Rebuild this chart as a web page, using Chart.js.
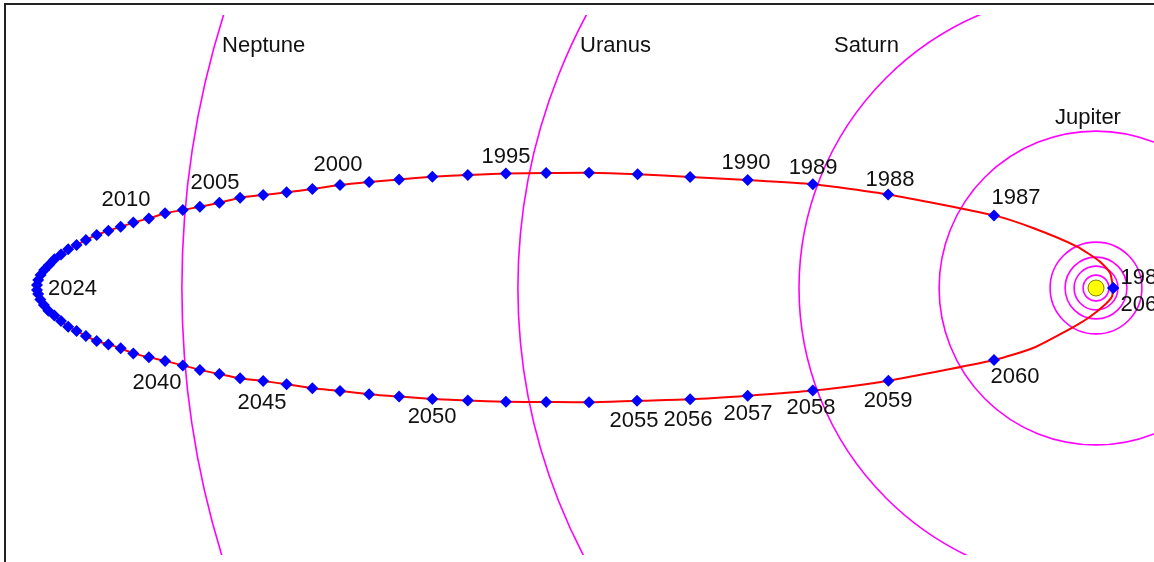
<!DOCTYPE html>
<html>
<head>
<meta charset="utf-8">
<script src="https://cdn.jsdelivr.net/npm/chart.js@4.4.1/dist/chart.umd.min.js"></script>
<style>
  body { margin: 0; background: #fff; }
  #wrap { position: relative; width: 1154px; height: 562px; overflow: hidden; }
  #frame { position: absolute; left: 4px; top: 3px; width: 2000px; height: 2000px;
           border-left: 2px solid #222; border-top: 2px solid #222; pointer-events: none; }
</style>
</head>
<body>
<div id="wrap">
  <canvas id="orbit" width="1154" height="562"></canvas>
  <div id="frame"></div>
</div>
<script>
// Halley's comet, yearly positions (AU, sun at origin)
const years = [];
for (let y = 1986; y <= 2061; y++) years.push(y);

const cometX = [0.57, -3.40, -6.93, -9.44, -11.61, -13.53, -15.28, -16.90, -18.33, -19.67,
  -20.94, -22.12, -23.23, -24.23, -25.20, -26.12, -26.98, -27.76, -28.53, -29.22,
  -29.87, -30.44, -31.03, -31.57, -32.09, -32.51, -32.92, -33.31, -33.67, -33.98,
  -34.26, -34.50, -34.72, -34.90, -35.06, -35.18, -35.26, -35.30, -35.30, -35.26,
  -35.19, -35.07, -34.92, -34.72, -34.50, -34.26, -33.98, -33.67, -33.31, -32.92,
  -32.51, -32.09, -31.57, -31.03, -30.44, -29.87, -29.22, -28.53, -27.76, -26.98,
  -26.12, -25.20, -24.23, -23.23, -22.12, -20.94, -19.67, -18.33, -16.90, -15.30,
  -13.53, -11.61, -9.44, -6.92, -3.40, 0.57];
const cometY = [0.00, 2.42, 3.12, 3.46, 3.60, 3.70, 3.79, 3.84, 3.83, 3.82,
  3.77, 3.71, 3.62, 3.53, 3.43, 3.30, 3.19, 3.10, 3.01, 2.84,
  2.71, 2.60, 2.49, 2.32, 2.18, 2.04, 1.91, 1.77, 1.60, 1.43,
  1.29, 1.12, 0.96, 0.77, 0.60, 0.43, 0.27, 0.10, -0.07, -0.20,
  -0.38, -0.57, -0.76, -0.92, -1.10, -1.29, -1.43, -1.60, -1.77, -1.88,
  -2.01, -2.18, -2.31, -2.43, -2.58, -2.73, -2.87, -3.01, -3.10, -3.21,
  -3.34, -3.43, -3.54, -3.62, -3.70, -3.75, -3.79, -3.80, -3.81, -3.76,
  -3.71, -3.59, -3.42, -3.09, -2.40, 0.00];

// extra points of the orbit line near perihelion
const periUpX = [0.47, 0.13, -0.63, -2.10];
const periUpY = [0.50, 0.88, 1.38, 2.00];
const periLowX = [-2.10, -0.63, -0.20, 0.23, 0.53];
const periLowY = [-2.00, -1.23, -0.96, -0.62, -0.29];

// year labels and where they sit
const labelText = ['2010', '2005', '2000', '1995', '1990', '1989', '1988', '1987', '1986',
  '2024', '2061', '2040', '2045', '2050', '2055', '2056', '2057', '2058', '2059', '2060'];
const labelX = [-32.33, -29.37, -25.27, -19.67, -11.67, -9.43, -6.87, -2.67, 1.63,
  -34.12, 1.63, -31.30, -27.80, -22.13, -15.40, -13.60, -11.60, -9.50, -6.93, -2.70];
const labelY = [2.93, 3.50, 4.10, 4.37, 4.17, 4.00, 3.60, 3.00, 0.33,
  -0.03, -0.57, -3.17, -3.83, -4.30, -4.43, -4.40, -4.20, -4.00, -3.77, -2.97];

// planet orbits (radius, AU)
const planetRadius = [0.43, 0.73, 1.03, 1.53, 5.23, 9.9, 19.27, 30.47];
const planetName = ['Neptune', 'Uranus', 'Saturn', 'Jupiter'];
const planetLabelX = [-29.13, -17.2, -8.73, -1.37];
const planetLabelY = [8.07, 8.07, 8.07, 5.67];

const markers = years.map((y, i) => ({ x: cometX[i], y: cometY[i] }));
const path = [markers[0]];
periUpX.forEach((x, i) => path.push({ x: x, y: periUpY[i] }));
for (let i = 1; i < markers.length - 1; i++) path.push(markers[i]);
periLowX.forEach((x, i) => path.push({ x: x, y: periLowY[i] }));
path.push(markers[markers.length - 1]);

const orbitsPlugin = {
  id: 'orbits',
  beforeDatasetsDraw(chart) {
    const { ctx, chartArea, scales } = chart;
    const cx = scales.x.getPixelForValue(0);
    const cy = scales.y.getPixelForValue(0);
    ctx.save();
    ctx.beginPath();
    ctx.rect(chartArea.left, chartArea.top, chartArea.right - chartArea.left, chartArea.bottom - chartArea.top);
    ctx.clip();
    ctx.strokeStyle = '#ff00ff';
    ctx.lineWidth = 1.6;
    planetRadius.forEach(r => {
      const rp = scales.x.getPixelForValue(r) - cx;
      ctx.beginPath();
      ctx.arc(cx, cy, rp, 0, Math.PI * 2);
      ctx.stroke();
    });
    ctx.restore();
  },
  afterDatasetsDraw(chart) {
    const { ctx, scales } = chart;
    ctx.save();
    ctx.font = '22px "Liberation Sans", Arial, sans-serif';
    ctx.fillStyle = '#111';
    ctx.textBaseline = 'middle';
    ctx.textAlign = 'center';
    labelText.forEach((t, i) => {
      ctx.fillText(t, scales.x.getPixelForValue(labelX[i]), scales.y.getPixelForValue(labelY[i]));
    });
    ctx.textAlign = 'left';
    planetName.forEach((t, i) => {
      ctx.fillText(t, scales.x.getPixelForValue(planetLabelX[i]), scales.y.getPixelForValue(planetLabelY[i]));
    });
    ctx.restore();
  }
};

new Chart(document.getElementById('orbit'), {
  type: 'scatter',
  data: {
    datasets: [
      {
        label: 'Sun',
        data: [{ x: 0, y: 0 }],
        pointRadius: 8,
        pointBackgroundColor: '#ffff00',
        pointBorderColor: '#808000',
        pointBorderWidth: 1,
        order: 3
      },
      {
        label: 'orbit',
        data: path,
        showLine: true,
        borderColor: '#ff0000',
        borderWidth: 2,
        tension: 0.2,
        pointRadius: 0,
        order: 2
      },
      {
        label: 'Halley',
        data: markers,
        pointStyle: 'rectRot',
        pointRadius: 6,
        pointBackgroundColor: '#0000ff',
        pointBorderColor: '#0000ff',
        pointBorderWidth: 0,
        order: 1
      }
    ]
  },
  options: {
    responsive: false,
    animation: false,
    layout: { autoPadding: false, padding: { top: 15, left: 0, right: 0, bottom: 7 } },
    plugins: { legend: { display: false }, tooltip: { enabled: false } },
    scales: {
      x: { type: 'linear', min: -36.533, max: 1.933, display: false },
      y: { type: 'linear', min: -8.9, max: 9.1, display: false }
    }
  },
  plugins: [orbitsPlugin]
});
</script>
</body>
</html>
